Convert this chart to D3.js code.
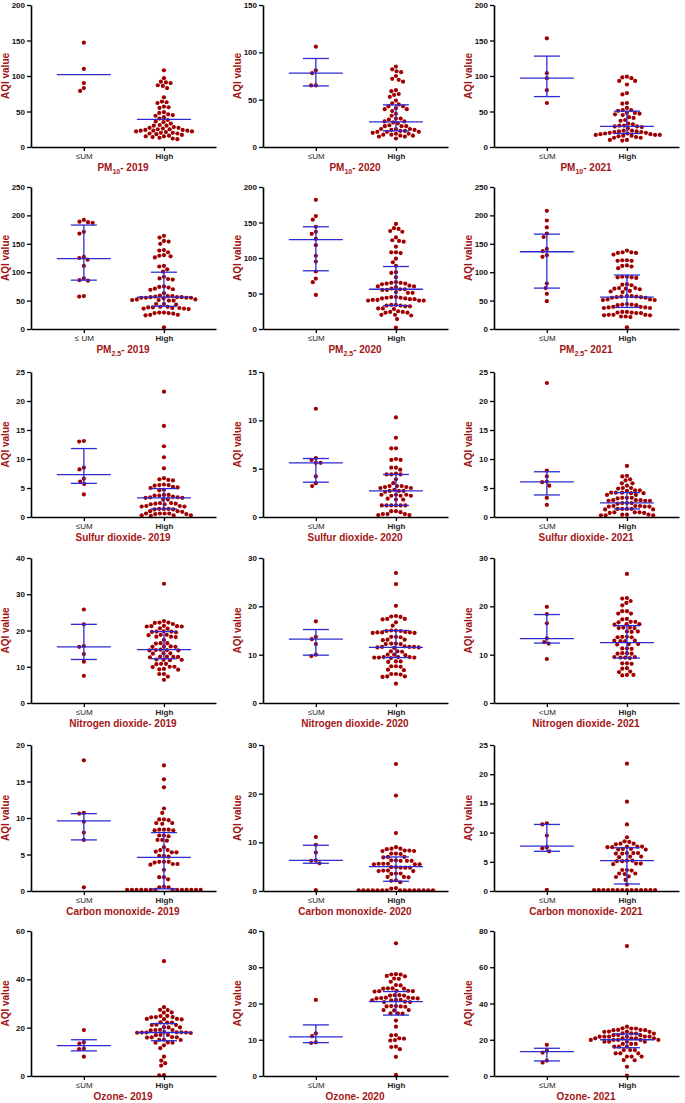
<!DOCTYPE html>
<html><head><meta charset="utf-8">
<script src="https://cdn.jsdelivr.net/npm/d3@7"></script>
<style>body{margin:0;background:#fff} svg{display:block}</style>
</head><body>
<svg id="c" width="685" height="1103"></svg>
<script>
// ---------- DATA ----------
const years = ["2019","2020","2021"];
const titleMain = ["PM","PM","Sulfur dioxide","Nitrogen dioxide","Carbon monoxide","Ozone"];
const titleSub  = ["10","2.5","","","",""];
const yMaxes = [[200,150,200],[250,200,250],[25,15,25],[40,30,30],[20,30,25],[60,40,80]];
const ySteps = [[50,50,50],[50,50,50],[5,5,5],[10,10,10],[5,10,5],[20,10,20]];
const umLabels = [["≤UM","≤UM","≤UM"],["≤ UM","≤UM","≤UM"],["≤UM","≤UM","≤UM"],["≤UM","≤UM","<UM"],["≤UM","≤UM","≤UM"],["≤UM","≤UM","≤UM"]];
const highLabel = "High";

// PM10
const pm10_2019_um = [147,110,90,79,83];
const pm10_2019_high = [108,97,92,91,90,87,86,83,70,64,63,62,57,56,55,49,48,46,45,44,42,40,38,36,35,33,31,30,30,28,27,27,26,25,25,24,24,23,23,23,22,22,21,20,20,19,19,18,17,16,15,15,14,13,12,11];
const pm10_2019_umStats = [102,null,null];
const pm10_2019_highStats = [39,null,null];

const pm10_2020_um = [106,81,78,65,65];
const pm10_2020_high = [85,82,80,79,75,72,71,69,60,59,56,55,53,49,46,45,43,43,41,40,40,38,35,33,30,30,29,27,27,26,25,23,22,22,22,19,19,19,18,18,17,17,16,16,16,15,14,14,13,13,12,12,11,11,9];
const pm10_2020_umStats = [78,64.5,93.5];
const pm10_2020_highStats = [26.5,17,44.5];

const pm10_2021_um = [153,104,97,80,62];
const pm10_2021_high = [99,98,97,93,93,88,76,74,62,61,55,52,52,51,48,48,47,46,45,42,41,38,37,33,32,30,30,29,29,28,26,23,23,22,22,21,21,20,20,19,19,18,18,17,17,17,16,16,15,14,13,13,10,10,9];
const pm10_2021_umStats = [97,71,128];
const pm10_2021_highStats = [29,19,50.5];

// PM2.5
const pm25_2019_um = [192,189,188,187,171,168,127,125,122,111,89,86,85,58,57];
const pm25_2019_high = [164,161,155,154,150,139,138,135,130,129,128,126,111,110,105,101,92,89,88,87,75,74,73,71,70,69,63,59,58,58,57,56,56,56,55,55,55,55,54,52,52,51,51,50,50,44,44,43,39,39,38,38,37,37,36,36,35,29,29,28,28,27,25,25,24,3];
const pm25_2019_umStats = [124,86,183];
const pm25_2019_highStats = [56,40,100];

const pm25_2020_um = [182,159,154,144,137,134,127,118,103,95,81,71,66,48];
const pm25_2020_high = [148,142,141,138,137,129,125,124,123,116,108,108,107,99,94,89,80,79,73,66,65,65,64,64,63,61,60,60,59,57,56,56,55,55,52,51,51,45,45,44,44,43,43,42,42,41,41,40,40,40,34,34,33,33,32,32,29,29,28,25,24,24,23,23,20,20,19,14,2];
const pm25_2020_umStats = [126,82,144];
const pm25_2020_highStats = [56,33,88];

const pm25_2021_um = [208,191,179,168,162,141,137,130,127,80,72,62,49];
const pm25_2021_high = [138,135,135,134,134,131,121,121,120,120,112,111,110,107,92,92,91,91,90,79,78,77,72,72,71,71,70,67,66,65,58,58,57,57,56,56,55,55,52,52,51,51,44,43,43,42,42,39,39,38,38,37,37,30,30,29,29,28,28,25,25,25,24,24,22,22,21,3];
const pm25_2021_umStats = [136,72,167];
const pm25_2021_highStats = [56,38,95];

// Sulfur dioxide
const so2_2019_um = [13.1,13,8.5,8.2,6.6,6.1,5.7,3.9];
const so2_2019_high = [21.6,15.7,12.2,10.3,8.4,6.7,6.5,6.4,6.3,5.6,5.5,5.5,5.4,5.2,5.1,5.0,4.7,4.6,3.8,3.8,3.7,3.7,3.5,3.4,3.4,3.3,3.3,3.0,3.0,2.4,2.4,2.3,2.3,2.2,2.2,1.9,1.9,1.8,1.8,1.4,1.4,1.4,1.3,1.3,1.0,1.0,0.9,0.6,0.6,0.6,0.6,0.5,0.5,0.3,0.3,0.3,0.2];
const so2_2019_umStats = [7.3,5.8,11.8];
const so2_2019_highStats = [3.3,1.4,4.9];

const so2_2020_um = [11.2,6.1,5.9,5.6,5.6,4.2,3.5,3.2];
const so2_2020_high = [10.3,8.2,7.1,7.1,6.0,5.9,5.9,5.1,5.1,4.9,4.5,4.4,4.4,4.4,3.9,3.5,3.2,3.2,3.2,3.1,3.1,3.0,3.0,2.8,2.7,2.7,2.7,2.6,2.3,2.3,2.3,2.2,2.2,2.2,1.9,1.8,1.8,1.2,1.2,1.2,1.2,1.2,1.2,0.6,0.6,0.5,0.3,0.3,0.3,0.2,0.2];
const so2_2020_umStats = [5.6,3.6,6.05];
const so2_2020_highStats = [2.7,1.2,4.4];

const so2_2021_um = [23.1,8,7,6.1,6,5.4,3.3,2.1];
const so2_2021_high = [8.8,7.1,7.0,6.5,6.3,5.8,5.8,5.4,5.0,5.0,4.9,4.6,4.6,4.5,4.2,4.2,4.2,4.1,4.1,3.8,3.8,3.3,3.3,3.3,3.2,2.9,2.9,2.9,2.8,2.8,2.8,2.4,2.4,2.4,2.3,1.9,1.9,1.9,1.8,1.8,1.8,1.4,1.4,1.4,1.4,1.3,1.3,0.8,0.8,0.8,0.7,0.7,0.4,0.4,0.4,0.3,0.3,0.3];
const so2_2021_umStats = [6.05,3.8,7.8];
const so2_2021_highStats = [2.45,1.4,4.2];

// Nitrogen dioxide
const no2_2019_um = [25.8,21.7,15.7,15.5,13.5,11.4,7.5];
const no2_2019_high = [32.9,22.6,22.2,22.2,22.1,21.8,21.3,21.2,21.2,21.1,21.1,20.6,20.5,19.8,19.7,19.7,19.6,19.5,18.8,18.8,18.7,18.3,18.3,18.2,17.4,16.5,16.5,16.4,15.6,15.6,15.5,15.5,14.7,14.6,14.6,14.5,14.5,13.7,13.7,13.6,12.8,12.8,12.7,12.7,12.6,12.0,11.9,11.9,11.8,10.8,10.8,10.7,10.0,10.0,9.9,9.4,9.3,9.2,8.0,8.0,7.3,6.4];
const no2_2019_umStats = [15.5,12,21.7];
const no2_2019_highStats = [14.7,12.2,19.7];

const no2_2020_um = [16.9,13.7,13.2,12.2,10,9.7];
const no2_2020_high = [26.9,24.6,20.1,18.0,17.9,17.8,17.4,17.4,17.3,16.7,16.0,15.0,15.0,14.9,14.9,14.7,14.6,14.6,14.6,14.5,14.5,13.7,13.7,13.6,13.1,13.1,13.0,12.3,12.3,12.2,12.2,11.7,11.6,11.6,11.6,11.5,11.5,11.4,10.7,10.7,10.6,10.0,10.0,9.9,9.5,9.5,9.5,9.4,9.4,9.4,9.3,8.6,8.6,8.5,7.6,7.6,7.5,6.9,6.8,6.0,6.0,5.9,5.5,5.5,5.4,4.0];
const no2_2020_umStats = [13.2,9.9,15.2];
const no2_2020_highStats = [11.5,9.4,15];

const no2_2021_um = [19.9,18.4,16.5,13.4,12.6,12.3,9.1];
const no2_2021_high = [26.7,21.7,21.6,21.1,20.7,20.2,19.0,19.0,18.5,18.5,17.4,17.3,16.8,16.8,16.7,16.3,16.3,16.2,15.6,15.6,15.5,15.5,14.8,14.8,14.7,13.7,13.7,13.6,13.6,12.9,12.9,12.8,12.8,12.2,12.2,12.1,11.3,11.3,11.2,10.3,10.3,10.2,10.2,9.5,9.5,9.4,9.4,9.3,8.2,8.2,8.1,7.2,7.1,6.5,6.4,5.8,5.8,5.7];
const no2_2021_umStats = [13.3,12.4,18.3];
const no2_2021_highStats = [12.5,9.3,16];

// Carbon monoxide
const co_2019_um = [17.9,10.7,10.6,9.5,8,7,0.5];
const co_2019_high = [17.2,15.3,14.2,11.3,10.7,9.8,9.8,9.7,9.3,9.3,9.2,8.4,8.4,8.4,8.3,8.3,7.6,7.6,7.5,7.0,7.0,6.9,6.0,5.6,5.6,5.4,5.3,5.3,4.8,4.8,4.7,4.0,4.0,4.0,3.9,3.7,3.7,3.6,2.9,1.9,1.9,1.6,0.6,0.5,0.5,0.15,0.15,0.15,0.15,0.15,0.15,0.15,0.15,0.15,0.15,0.15,0.15,0.15,0.15];
const co_2019_umStats = [9.6,7,10.6];
const co_2019_highStats = [4.6,0.3,8];

const co_2020_um = [11.1,9.5,7.9,6.3,6.2,5.7,0.2];
const co_2020_high = [26.1,19.6,11.9,9.0,8.7,8.7,8.6,8.3,8.3,8.2,8.2,7.7,7.7,7.6,7.0,7.0,6.9,6.3,6.3,6.2,6.2,6.2,5.6,5.6,5.6,5.5,5.5,5.5,4.9,4.9,4.8,4.8,4.8,4.2,4.2,4.1,4.1,3.6,3.6,3.5,2.9,2.9,2.8,2.2,2.1,1.8,0.6,0.5,0.15,0.15,0.15,0.15,0.15,0.15,0.15,0.15,0.15,0.15,0.15,0.15,0.15,0.15,0.15];
const co_2020_umStats = [6.3,5.7,9.4];
const co_2020_highStats = [5,2,7];

const co_2021_um = [11.6,11.4,9.5,7.5,7.3,6.8,0.2];
const co_2021_high = [21.8,15.3,11.4,9.2,8.5,8.4,8.1,8.1,8.0,7.6,7.6,7.6,7.5,7.5,7.2,7.2,7.1,7.1,6.5,6.5,6.5,6.4,6.4,5.9,5.9,5.8,5.2,5.2,5.1,5.1,4.7,4.7,4.6,3.6,3.6,3.5,3.0,3.0,2.9,2.5,2.4,1.9,1.1,0.15,0.15,0.15,0.15,0.15,0.15,0.15,0.15,0.15,0.15,0.15,0.15,0.15,0.15];
const co_2021_umStats = [7.7,6.8,11.4];
const co_2021_highStats = [5.2,1.2,7.4];

// Ozone
const o3_2019_um = [19,14,13.4,11.3,11.1,8];
const o3_2019_high = [47.5,28.5,27.4,27.3,26.3,26.2,24.9,24.8,24.4,24.4,24.3,23.6,23.6,23.5,23.4,22.2,22.1,22.1,21.2,21.1,21.1,20.2,20.1,20.1,19.1,19.0,19.0,18.9,18.0,18.1,17.9,18.0,18.2,17.8,18.0,18.1,17.0,17.0,16.9,16.1,16.0,16.0,15.9,15.0,15.0,14.9,13.9,13.8,13.8,12.7,11.5,8.0,6.4,5.3,4.3,0.4,0.3];
const o3_2019_umStats = [12.6,10.4,15];
const o3_2019_highStats = [18,14.6,21.7];

const o3_2020_um = [21,11.8,11,9.3,9.1];
const o3_2020_high = [36.6,28.1,28.0,28.0,27.6,27.5,26.9,26.8,26.0,25.1,25.0,24.2,24.2,24.1,24.1,23.5,23.5,23.4,23.4,23.3,22.3,22.3,22.2,22.2,21.6,21.6,21.5,21.5,21.4,21.4,21.0,21.0,20.9,20.9,20.5,20.4,20.4,19.3,19.3,19.2,19.2,19.1,18.2,18.2,18.1,17.3,17.3,17.2,15.3,13.6,11.3,11.2,10.4,10.3,9.9,9.8,8.1,8.0,7.4,5.3,0.3];
const o3_2020_umStats = [10.8,9.2,14.1];
const o3_2020_highStats = [20.5,16.8,23.3];

const o3_2021_um = [17.2,14,12.9,8.5,7.4];
const o3_2021_high = [71.7,27.2,26.3,26.2,26.2,25.4,25.4,25.3,25.3,24.5,24.5,24.4,24.4,23.5,23.5,23.4,23.4,22.6,22.5,22.5,21.7,21.7,21.7,21.7,21.7,21.7,20.8,20.8,20.8,20.8,20.8,19.9,19.9,19.9,19.9,19.9,18.9,18.9,18.9,18.9,17.7,17.7,17.7,16.2,16.2,16.2,14.3,14.3,14.3,12.5,12.5,12.5,10.7,10.7,10.7,8.8,8.7,5.1,0.2];
const o3_2021_umStats = [13.5,8.3,15.3];
const o3_2021_highStats = [20,15.6,23.2];

const panelData = [
  [[pm10_2019_um,pm10_2019_high,pm10_2019_umStats,pm10_2019_highStats],[pm10_2020_um,pm10_2020_high,pm10_2020_umStats,pm10_2020_highStats],[pm10_2021_um,pm10_2021_high,pm10_2021_umStats,pm10_2021_highStats]],
  [[pm25_2019_um,pm25_2019_high,pm25_2019_umStats,pm25_2019_highStats],[pm25_2020_um,pm25_2020_high,pm25_2020_umStats,pm25_2020_highStats],[pm25_2021_um,pm25_2021_high,pm25_2021_umStats,pm25_2021_highStats]],
  [[so2_2019_um,so2_2019_high,so2_2019_umStats,so2_2019_highStats],[so2_2020_um,so2_2020_high,so2_2020_umStats,so2_2020_highStats],[so2_2021_um,so2_2021_high,so2_2021_umStats,so2_2021_highStats]],
  [[no2_2019_um,no2_2019_high,no2_2019_umStats,no2_2019_highStats],[no2_2020_um,no2_2020_high,no2_2020_umStats,no2_2020_highStats],[no2_2021_um,no2_2021_high,no2_2021_umStats,no2_2021_highStats]],
  [[co_2019_um,co_2019_high,co_2019_umStats,co_2019_highStats],[co_2020_um,co_2020_high,co_2020_umStats,co_2020_highStats],[co_2021_um,co_2021_high,co_2021_umStats,co_2021_highStats]],
  [[o3_2019_um,o3_2019_high,o3_2019_umStats,o3_2019_highStats],[o3_2020_um,o3_2020_high,o3_2020_umStats,o3_2020_highStats],[o3_2021_um,o3_2021_high,o3_2021_umStats,o3_2021_highStats]]
];

// ---------- LAYOUT ----------
const rowTop  = [5,187,372,558,745,931];
const rowZero = [147,329,517,703,891,1076];
const colAxis = [31,263,494];
const plotW = 185;
const DOT = "#a00000", RED = "#a31515", BLUE = "#2c2cd2";
const R = 2.1, D = 4.7;

const svg = d3.select("#c");

function swarm(vals, y){
  const pts = vals.map(v=>({v, y:y(v)})).sort((a,b)=>a.y-b.y);
  const placed = [];
  pts.forEach(p=>{
    const ivs = [];
    placed.forEach(q=>{
      const dy = Math.abs(q.y-p.y);
      if(dy < D){ const w=Math.sqrt(D*D-dy*dy); ivs.push([q.x-w,q.x+w]); }
    });
    const cands = [0];
    ivs.forEach(iv=>{cands.push(iv[0],iv[1]);});
    cands.sort((a,b)=>Math.abs(a)-Math.abs(b) || a-b);
    let x = 0;
    for(const c of cands){
      if(ivs.every(iv=> c<=iv[0]+1e-6 || c>=iv[1]-1e-6)){ x=c; break; }
    }
    p.x = x; placed.push(p);
  });
  return pts;
}

for(let r=0;r<6;r++){
  for(let c=0;c<3;c++){
    const ax = colAxis[c];
    const [umVals, hiVals, umSt, hiSt] = panelData[r][c];
    const yMax = yMaxes[r][c], step = ySteps[r][c];
    const x = d3.scaleLinear().domain([0.34,2.65]).range([ax, ax+plotW]);
    const y = d3.scaleLinear().domain([0,yMax]).range([rowZero[r], rowTop[r]]);
    const g = svg.append("g");

    // dots
    [[umVals,1],[hiVals,2]].forEach(([vals,k])=>{
      const pts = swarm(vals,y);
      g.append("g").selectAll("circle").data(pts).join("circle")
        .attr("cx",d=>x(k)+d.x).attr("cy",d=>d.y).attr("r",R).attr("fill",DOT);
    });

    // median + IQR
    [[umSt,1],[hiSt,2]].forEach(([st,k])=>{
      const cx = x(k);
      const [med,q1,q3] = st;
      const lg = g.append("g").attr("stroke",BLUE).attr("stroke-width",1.3).attr("fill","none");
      if(q1!=null && q3!=null){
        lg.append("line").attr("x1",cx).attr("x2",cx).attr("y1",y(q1)).attr("y2",y(q3));
        [q1,q3].forEach(q=>lg.append("line").attr("x1",cx-13).attr("x2",cx+13).attr("y1",y(q)).attr("y2",y(q)));
      }
      lg.append("line").attr("x1",cx-27).attr("x2",cx+27).attr("y1",y(med)).attr("y2",y(med));
    });

    // axes
    const yAxis = d3.axisLeft(y).tickValues(d3.range(0,yMax+step/2,step)).tickSize(4).tickSizeOuter(0).tickPadding(2);
    const ga = g.append("g").attr("transform",`translate(${ax},0)`).call(yAxis);
    ga.select(".domain").attr("stroke","#000").attr("stroke-width",1.6);
    ga.selectAll(".tick line").attr("stroke","#000").attr("stroke-width",1.3);
    ga.selectAll(".tick text").attr("font-family","'Liberation Sans Narrow','Arial Narrow','Liberation Sans',Arial,sans-serif")
      .attr("font-weight","bold").attr("font-size",8).attr("fill","#111");

    const labels = [umLabels[r][c], highLabel];
    const xAxis = d3.axisBottom(x).tickValues([1,2]).tickFormat(i=>labels[i-1]).tickSize(4).tickSizeOuter(0).tickPadding(2);
    const gx = g.append("g").attr("transform",`translate(0,${rowZero[r]})`).call(xAxis);
    gx.select(".domain").attr("stroke","#000").attr("stroke-width",1.6);
    gx.selectAll(".tick line").attr("stroke","#000").attr("stroke-width",1.3);
    gx.selectAll(".tick text").attr("font-family","'Liberation Sans',Arial,sans-serif")
      .attr("font-weight",(d)=>d===2?"bold":"normal").attr("font-size",8).attr("fill","#222");

    // y label
    g.append("text").attr("transform",`translate(${ax-22},${(rowTop[r]+rowZero[r])/2}) rotate(-90)`)
      .attr("text-anchor","middle").attr("font-family","'Liberation Sans',Arial,sans-serif")
      .attr("font-weight","bold").attr("font-size",10).attr("fill",RED).text("AQI value");

    // title
    const t = g.append("text").attr("x",ax+92).attr("y",rowZero[r]+24).attr("text-anchor","middle")
      .attr("font-family","'Liberation Sans',Arial,sans-serif").attr("font-weight","bold")
      .attr("font-size",10).attr("fill",RED);
    t.append("tspan").text(titleMain[r]);
    if(titleSub[r]) t.append("tspan").attr("font-size",7).attr("dy",2.5).text(titleSub[r]);
    t.append("tspan").attr("dy",titleSub[r]?-2.5:0).text("- "+years[c]);
  }
}
</script>
</body></html>
